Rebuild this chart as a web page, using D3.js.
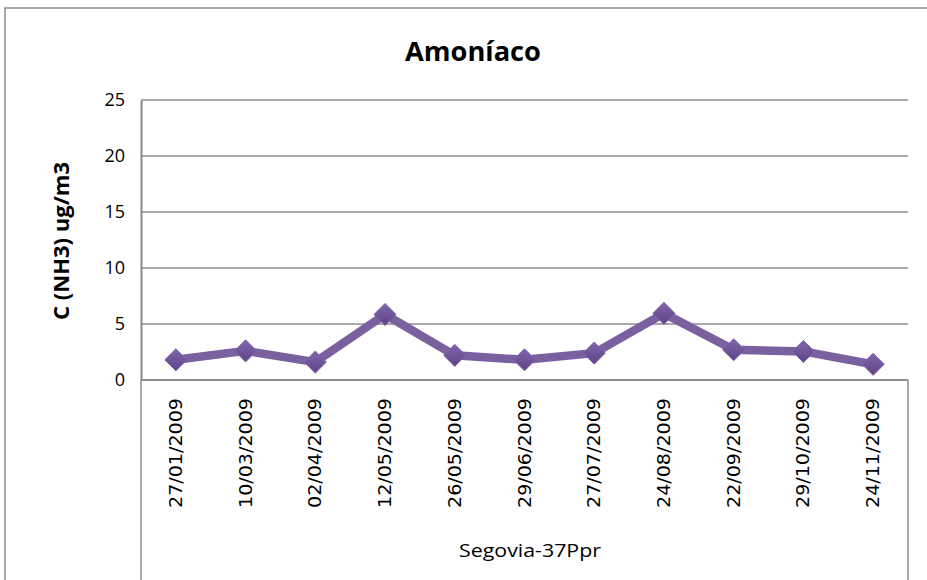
<!DOCTYPE html>
<html><head><meta charset="utf-8">
<script src="https://cdn.jsdelivr.net/npm/d3@7"></script>
<style>body{margin:0;background:#fff}svg{display:block}</style>
</head><body>
<script>
const categories = ["27/01/2009","10/03/2009","02/04/2009","12/05/2009","26/05/2009","29/06/2009","27/07/2009","24/08/2009","22/09/2009","29/10/2009","24/11/2009"];
const values = [1.8, 2.6, 1.6, 5.85, 2.2, 1.8, 2.4, 5.95, 2.7, 2.55, 1.4];
const yTicks = [0,5,10,15,20,25];
const title = "Amoníaco";
const yTitle = "C (NH3) ug/m3";
const groupLabel = "Segovia-37Ppr";

const W = 927, H = 580;
const m = {left:141, right:908, top:100, bottom:380};
const svg = d3.select("body").append("svg").attr("width",W).attr("height",H);
svg.append("rect").attr("x",5).attr("y",8).attr("width",W+10).attr("height",H+10)
  .attr("fill","#fff").attr("stroke","#8c8c8c").attr("stroke-width",1.5);

const x = d3.scaleBand().domain(categories).range([m.left,m.right]);
const y = d3.scaleLinear().domain([0,25]).range([m.bottom,m.top]);

svg.append("g").selectAll("line").data(yTicks.filter(d=>d>0)).join("line")
  .attr("x1",m.left).attr("x2",m.right).attr("y1",d=>y(d)).attr("y2",d=>y(d))
  .attr("stroke","#8c8c8c").attr("stroke-width",1.5);

const ya = svg.append("g").attr("transform",`translate(${m.left},0)`)
  .call(d3.axisLeft(y).tickValues(yTicks).tickSize(0).tickPadding(16));
ya.select(".domain").attr("stroke","#8c8c8c").attr("stroke-width",2);
ya.selectAll("text").attr("font-family","Open Sans").attr("font-size",18).attr("fill","#000");

const box = svg.append("g");
box.append("line").attr("x1",m.left).attr("x2",m.right).attr("y1",m.bottom).attr("y2",m.bottom)
  .attr("stroke","#8c8c8c").attr("stroke-width",2);
box.append("line").attr("x1",m.left).attr("x2",m.left).attr("y1",m.bottom).attr("y2",H)
  .attr("stroke","#8c8c8c").attr("stroke-width",1.5);
box.append("line").attr("x1",m.right).attr("x2",m.right).attr("y1",m.bottom).attr("y2",H)
  .attr("stroke","#8c8c8c").attr("stroke-width",1.5);

svg.append("g").selectAll("text").data(categories).join("text")
  .attr("transform",d=>`translate(${x(d)+x.bandwidth()/2+6},398) rotate(-90)`)
  .attr("text-anchor","end").attr("font-family","DejaVu Sans").attr("font-size",17)
  .attr("textLength",110).attr("lengthAdjust","spacingAndGlyphs")
  .attr("fill","#000").text(d=>d);

svg.append("text").attr("x",530).attr("y",557).attr("text-anchor","middle")
  .attr("font-family","Open Sans").attr("font-size",18)
  .attr("textLength",142).attr("lengthAdjust","spacingAndGlyphs")
  .attr("fill","#000").text(groupLabel);

svg.append("text").attr("x",473).attr("y",61).attr("text-anchor","middle")
  .attr("font-family","Open Sans").attr("font-weight","bold").attr("font-size",26)
  .attr("textLength",136).attr("lengthAdjust","spacingAndGlyphs")
  .attr("fill","#000").text(title);

svg.append("text").attr("transform",`translate(69,241) rotate(-90)`).attr("text-anchor","middle")
  .attr("font-family","Open Sans").attr("font-weight","bold").attr("font-size",21)
  .attr("textLength",158).attr("lengthAdjust","spacingAndGlyphs")
  .attr("fill","#000").text(yTitle);

const defs = svg.append("defs");
const g = defs.append("linearGradient").attr("id","mk").attr("x1",0).attr("y1",0).attr("x2",0).attr("y2",1);
g.append("stop").attr("offset","0%").attr("stop-color","#8266ab");
g.append("stop").attr("offset","100%").attr("stop-color","#5e4389");

const cx = d => x(d)+x.bandwidth()/2;
const line = d3.line().x((d,i)=>cx(categories[i])).y(d=>y(d));
svg.append("path").datum(values).attr("d",line).attr("fill","none")
  .attr("stroke","#7b60a0").attr("stroke-width",8.5).attr("stroke-linejoin","round");

svg.append("g").selectAll("path").data(values).join("path")
  .attr("d",d3.symbol(d3.symbolDiamond2, 310))
  .attr("transform",(d,i)=>`translate(${cx(categories[i])},${y(d)})`)
  .attr("fill","url(#mk)").attr("stroke","#7d62a4").attr("stroke-width",1);
</script>
</body></html>
